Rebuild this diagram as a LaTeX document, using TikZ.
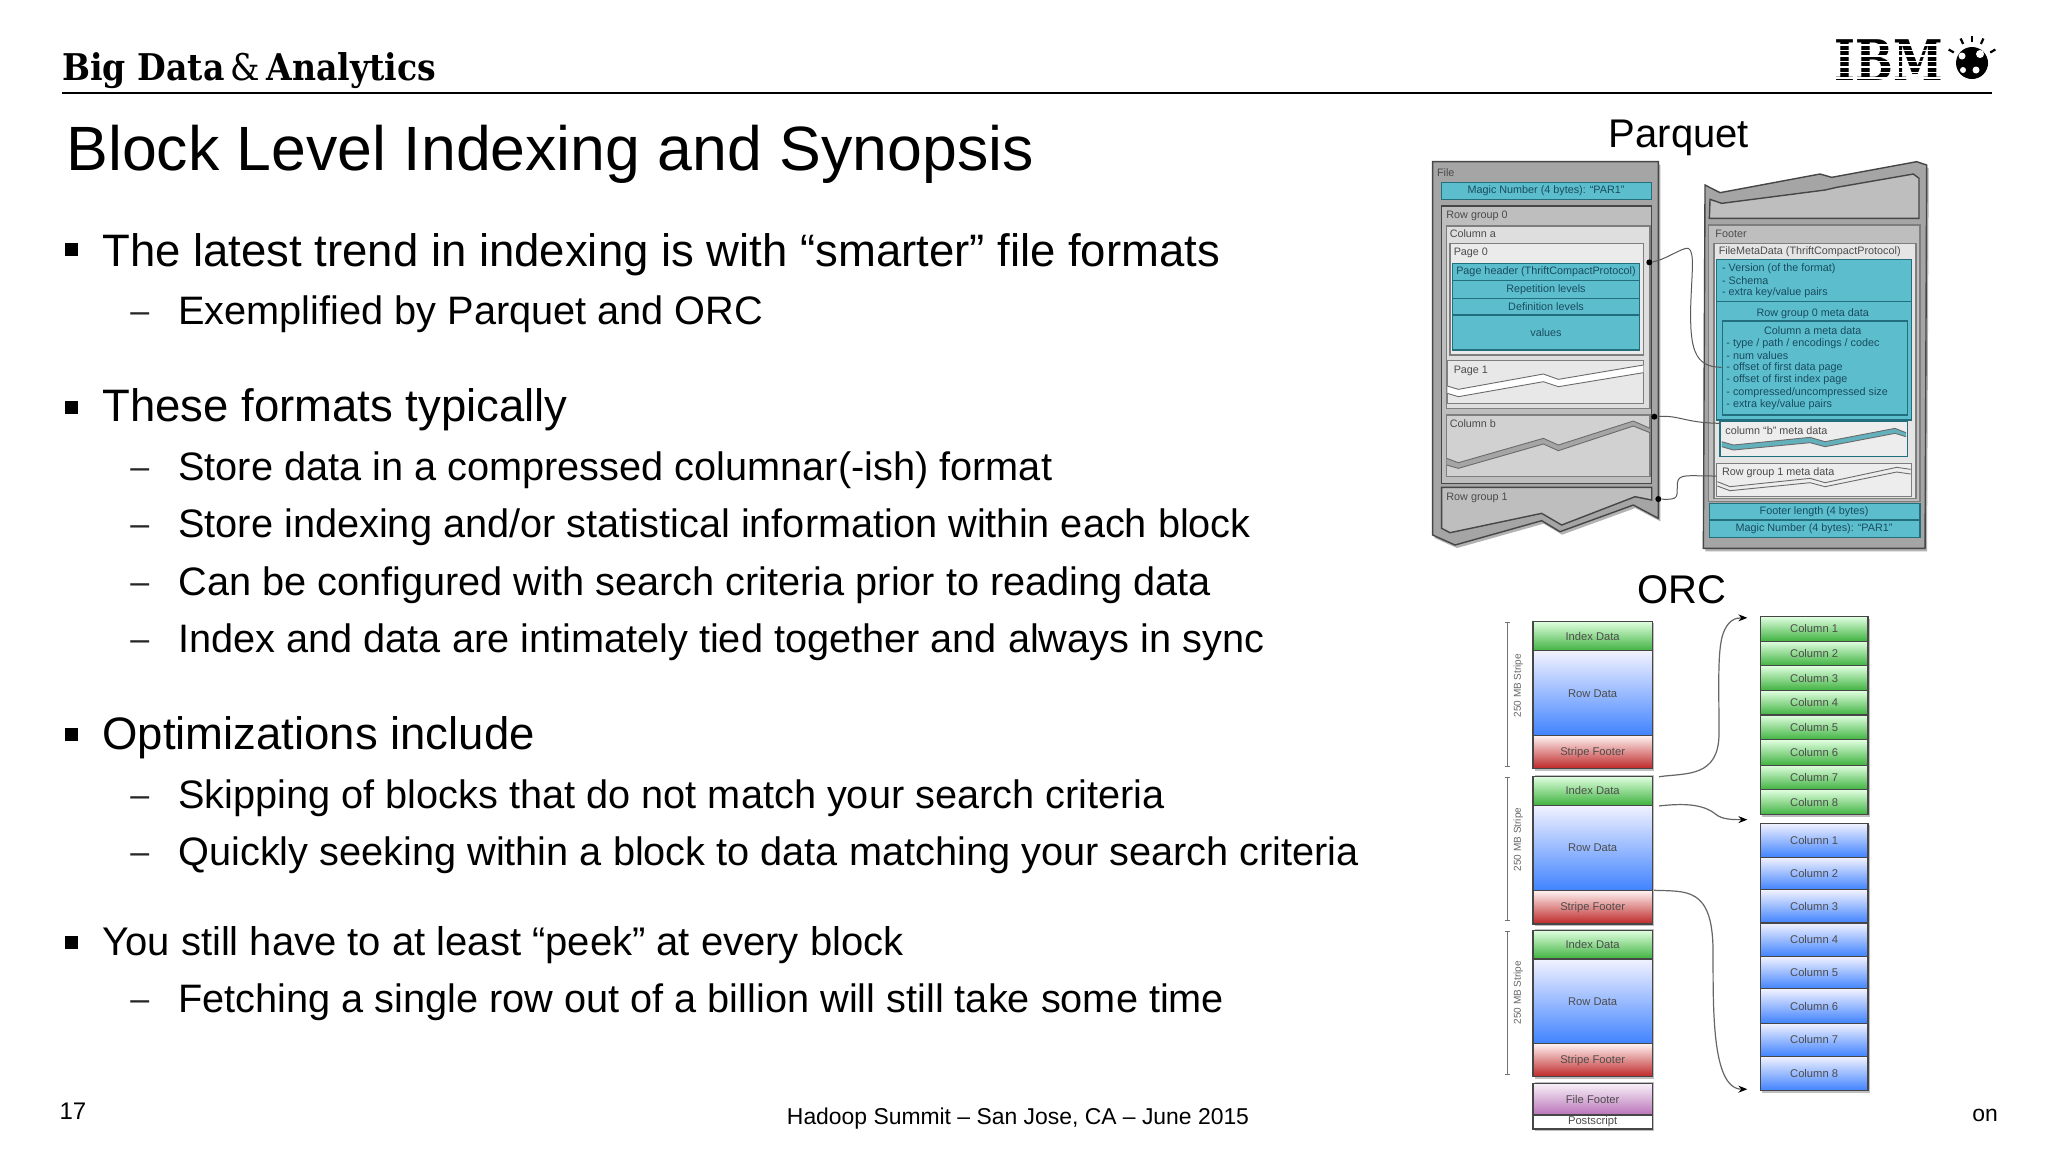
\documentclass[tikz,border=0pt]{standalone}
\usepackage{fontspec}
\setmainfont{Liberation Sans}
\newfontfamily\logofont[FakeStretch=0.9]{DejaVu Serif}
\newfontfamily\ibmfont[FakeStretch=0.8]{DejaVu Serif}
\usetikzlibrary{arrows.meta}
\definecolor{teal1}{RGB}{92,190,205}
\definecolor{tealline}{RGB}{35,110,125}
\definecolor{gedge}{RGB}{70,70,70}
\definecolor{gfill}{RGB}{165,165,165}
\definecolor{gmid}{RGB}{190,190,190}
\definecolor{glight}{RGB}{222,222,222}
\definecolor{smalltx}{RGB}{75,75,75}
\definecolor{tealtx}{RGB}{25,75,95}
\tikzset{
  lone/.style={anchor=base west,font=\fontsize{22.75}{26}\selectfont,inner sep=0pt},
  ltwo/.style={anchor=base west,font=\fontsize{19.85}{24}\selectfont,inner sep=0pt},
  lsmall/.style={anchor=base west,font=\fontsize{20}{24}\selectfont,inner sep=0pt},
  dashmark/.style={anchor=base west,font=\fontsize{17}{20}\selectfont,inner sep=0pt,text=black!85},
  headline/.style={font=\fontsize{20}{24}\selectfont,inner sep=0pt},
  foot/.style={anchor=base,font=\fontsize{12}{14}\selectfont,inner sep=0pt},
  footmid/.style={anchor=base,font=\fontsize{11.45}{14}\selectfont,inner sep=0pt},
  pq/.style={shift={(1420,100)},x=0.16667pt,y=-0.16667pt},
  oc/.style={shift={(1479,589)},x=0.16667pt,y=-0.18018pt},
  gbox/.style={draw=gedge,line width=.7pt},
  tbox/.style={draw=tealline,line width=.6pt,fill=teal1},
  tiny/.style={font=\fontsize{5.4}{6}\selectfont,inner sep=0pt,text=smalltx},
  tinyt/.style={font=\fontsize{5.4}{6}\selectfont,inner sep=0pt,text=tealtx},
  wire/.style={draw=black!65,line width=.5pt},
  dotend/.style={fill=black,circle,inner sep=0pt,minimum size=3pt},
  zig/.style={draw=gedge!80,line width=.45pt},
  stackbox/.style={draw=gedge,line width=.6pt,minimum width=59.67pt,anchor=north west,inner sep=0pt,font=\fontsize{5.6}{6}\selectfont,text=black!70},
  greenb/.style={top color=green!12!white,bottom color=green!60!black!75},
  blueb/.style={top color=blue!5!white,bottom color=blue!65!cyan!75},
  redb/.style={top color=red!5!white,bottom color=red!70!black!85},
  purpb/.style={top color=violet!5!white,bottom color=violet!55!white},
  colbox/.style={draw=gedge,line width=.6pt,anchor=north west,inner sep=0pt,font=\fontsize{5.6}{6}\selectfont,text=black!70},
  brace/.style={draw=black!55,line width=.5pt},
  curve/.style={draw=black!60,line width=.6pt},
  curvetip/.style={curve,-{Stealth[length=4.5pt,width=3.5pt,black]}},
  rot/.style={rotate=90,font=\fontsize{5}{5}\selectfont,inner sep=0pt,text=black!60},
  bullet/.style={fill=black,draw=none},
}
\newcommand{\stackrow}[5]{% name, y1, y2, style, text
  \pgfmathsetmacro{\hh}{(#3-#2)*0.18018}
  \node[stackbox,#4,minimum height=\hh pt] (#1) at (160,#2) {#5};}
\newcommand{\colrow}[5]{%
  \pgfmathsetmacro{\hh}{(#3-#2)*0.18018}
  \node[colbox,#4,minimum width=53.83pt,minimum height=\hh pt] (#1) at (842,#2) {#5};}
\begin{document}
\begin{tikzpicture}[x=0.5pt,y=-0.5pt]
\useasboundingbox (0,0) rectangle (2048,1153);
\fill[white] (0,0) rectangle (2048,1153);
% header
\node[anchor=base west,inner sep=0pt,font=\logofont\fontsize{18.4}{20}\selectfont] (brand) at (62,80) {\textbf{Big Data}\,\&\,\textbf{Analytics}};
\draw[line width=1pt] (62,92.5) -- (1992,92.5);
% IBM
\node[anchor=base west,inner sep=0pt,font=\ibmfont\bfseries\fontsize{28}{30}\selectfont] (ibm) at (1834,80) {IBM};
\foreach \yy in {44,49.5,55,60.5,66,71.5,77}{\fill[white] (1830,\yy) rectangle (1950,\yy+1.9);}
\fill[black] (1972,63) circle (16);
\fill[white] (1962,56) circle (3.5) (1980,54) circle (4) (1976,70) circle (3.5) (1963,70) circle (3);
\foreach \a in {-150,-115,-90,-65,-30}{\draw[line width=1.1pt] (1972,63) ++(\a:21) -- ++(\a:6);}
% title
\node[anchor=base west,inner sep=0pt,font=\fontsize{31.3}{36}\selectfont] (title) at (66,170.5) {Block Level Indexing and Synopsis};
% bullets
\foreach \yy in {249,407,734,942}{\fill[bullet] (65,\yy-6.5) rectangle (78,\yy+6.5);}
\node[lone] (a1) at (102,266) {The latest trend in indexing is with “smarter” file formats};
\node[ltwo] (a2) at (178,324) {Exemplified by Parquet and ORC};
\node[lone] (b1) at (102,421) {These formats typically};
\node[ltwo] (b2) at (178,480) {Store data in a compressed columnar(-ish) format};
\node[ltwo] (b3) at (178,537) {Store indexing and/or statistical information within each block};
\node[ltwo] (b4) at (178,595) {Can be configured with search criteria prior to reading data};
\node[ltwo] (b5) at (178,652) {Index and data are intimately tied together and always in sync};
\node[lone] (c1) at (102,749) {Optimizations include};
\node[ltwo] (c2) at (178,808) {Skipping of blocks that do not match your search criteria};
\node[ltwo] (c3) at (178,865) {Quickly seeking within a block to data matching your search criteria};
\node[lsmall] (d1) at (102,955) {You still have to at least “peek” at every block};
\node[ltwo] (d2) at (178,1012) {Fetching a single row out of a billion will still take some time};
\foreach \yy/\nn in {322/a,478/b,535/c,593/d,650/e,806/f,863/g,1010/h}{
  \node[dashmark] (dash\nn) at (130,\yy) {–};}
% footer
\node[foot] (pg) at (73,1119) {17};
\node[footmid] (evt) at (1018,1124) {Hadoop Summit – San Jose, CA – June 2015};
\node[footmid] (cut) at (1985,1121) {on};
% labels
\node[headline] (pqlab) at (1679,138) {Parquet};
\node[headline] (orclab) at (1682,590) {ORC};
% ---------- Parquet
\begin{scope}[pq]
\fill[black!30,xshift=1pt,yshift=-1.5pt] (38,185) -- (715,185) -- (715,1255) -- (640,1215) -- (420,1295) -- (365,1262) -- (105,1335) -- (38,1305) -- cycle;
\path[gbox,fill=gfill] (38,185) -- (715,185) -- (715,1255) -- (640,1215) -- (420,1295) -- (365,1262) -- (105,1335) -- (38,1305) -- cycle;
\node[tiny,anchor=west] (tfile) at (50,218) {File};
\path[tbox] (65,248) rectangle (695,298);
\node[tinyt] (tm1) at (378,272) {Magic Number (4 bytes): “PAR1”};
\path[gbox,fill=gmid] (65,318) rectangle (695,1150);
\node[tiny,anchor=west] (trg0) at (78,348) {Row group 0};
\path[gbox,draw=gedge!70,fill=glight] (80,378) rectangle (690,925);
\node[tiny,anchor=west] (tca) at (88,402) {Column a};
\path[gbox,draw=gedge!70,fill=black!8] (90,430) rectangle (670,765);
\node[tiny,anchor=west] (tp0) at (100,458) {Page 0};
\path[tbox] (98,490) rectangle (658,750);
\draw[draw=tealline,line width=.6pt] (98,542) -- (658,542) (98,595) -- (658,595) (98,645) -- (658,645);
\node[tinyt] (th) at (378,516) {Page header (ThriftCompactProtocol)};
\node[tinyt] (tr) at (378,569) {Repetition levels};
\node[tinyt] (td) at (378,621) {Definition levels};
\node[tinyt] (tv) at (378,698) {values};
\path[gbox,draw=gedge!70,fill=black!9] (82,782) rectangle (670,910);
\node[tiny,anchor=west] (tp1) at (100,812) {Page 1};
\fill[white] (82,858) -- (115,868) -- (370,822) -- (415,838) -- (670,795) -- (670,818) -- (415,860) -- (370,845) -- (115,890) -- (82,880) -- cycle;
\draw[zig] (82,858) -- (115,868) -- (370,822) -- (415,838) -- (670,795);
\draw[zig] (82,880) -- (115,890) -- (370,845) -- (415,860) -- (670,818);
\path[gbox,draw=gedge!70,fill=black!18] (80,945) rectangle (690,1130);
\node[tiny,anchor=west] (tcb) at (88,972) {Column b};
\fill[gfill] (80,1075) -- (115,1088) -- (370,1015) -- (415,1035) -- (640,963) -- (690,985) -- (690,998) -- (640,978) -- (415,1052) -- (370,1032) -- (115,1105) -- (80,1095) -- cycle;
\draw[zig] (80,1075) -- (115,1088) -- (370,1015) -- (415,1035) -- (640,963) -- (690,985);
\draw[zig] (80,1095) -- (115,1105) -- (370,1032) -- (415,1052) -- (640,978) -- (690,998);
\path[gbox,fill=gmid] (65,1162) -- (695,1162) -- (695,1200) -- (645,1190) -- (425,1275) -- (365,1240) -- (90,1298) -- (65,1285) -- cycle;
\node[tiny,anchor=west] (trg1) at (78,1195) {Row group 1};
% right file
\fill[black!30,xshift=1pt,yshift=-1.5pt] (855,255) -- (900,278) -- (1200,222) -- (1235,232) -- (1490,185) -- (1520,195) -- (1515,1345) -- (850,1345) -- cycle;
\path[gbox,fill=gfill] (855,255) -- (900,278) -- (1200,222) -- (1235,232) -- (1490,185) -- (1520,195) -- (1515,1345) -- (850,1345) -- cycle;
\path[gbox,fill=gmid] (870,298) -- (905,310) -- (1215,270) -- (1250,262) -- (1480,222) -- (1497,235) -- (1497,355) -- (868,355) -- cycle;
\path[gbox,draw=gedge!70,fill=gmid] (865,375) rectangle (1500,1205);
\node[tiny,anchor=west] (tfoot) at (885,402) {Footer};
\path[gbox,draw=gedge!70,fill=black!10] (882,430) rectangle (1488,1195);
\node[tiny,anchor=west] (tfm) at (895,456) {FileMetaData (ThriftCompactProtocol)};
\path[tbox] (890,478) rectangle (1475,960);
\draw[draw=tealline,line width=.6pt] (890,605) -- (1475,605);
\node[tinyt,anchor=west] (f1) at (905,505) {- Version (of the format)};
\node[tinyt,anchor=west] (f2) at (905,542) {- Schema};
\node[tinyt,anchor=west] (f3) at (905,579) {- extra key/value pairs};
\node[tinyt] (f4) at (1178,640) {Row group 0 meta data};
\draw[draw=tealline,line width=.6pt] (908,663) rectangle (1462,945);
\node[tinyt] (f5) at (1178,692) {Column a meta data};
\node[tinyt,anchor=west] (f6) at (918,730) {- type / path / encodings / codec};
\node[tinyt,anchor=west] (f7) at (918,767) {- num values};
\node[tinyt,anchor=west] (f8) at (918,803) {- offset of first data page};
\node[tinyt,anchor=west] (f9) at (918,840) {- offset of first index page};
\node[tinyt,anchor=west] (f10) at (918,878) {- compressed/uncompressed size};
\node[tinyt,anchor=west] (f11) at (918,915) {- extra key/value pairs};
\path[draw=tealline,line width=.6pt,fill=black!7] (900,965) rectangle (1462,1070);
\node[tiny,anchor=west] (f12) at (915,993) {column “b” meta data};
\fill[teal1!80!gray] (905,1025) -- (940,1035) -- (1170,1012) -- (1215,1025) -- (1425,985) -- (1458,998) -- (1458,1010) -- (1425,1000) -- (1215,1040) -- (1170,1028) -- (940,1050) -- (905,1040) -- cycle;
\draw[zig] (905,1025) -- (940,1035) -- (1170,1012) -- (1215,1025) -- (1425,985) -- (1458,998);
\draw[zig] (905,1040) -- (940,1050) -- (1170,1028) -- (1215,1040) -- (1425,1000) -- (1458,1010);
\path[gbox,draw=gedge!70,fill=black!7] (890,1090) rectangle (1475,1190);
\node[tiny,anchor=west] (f13) at (905,1117) {Row group 1 meta data};
\draw[zig] (892,1145) -- (930,1160) -- (1170,1135) -- (1215,1148) -- (1430,1102) -- (1472,1108);
\draw[zig] (892,1158) -- (930,1172) -- (1170,1148) -- (1215,1160) -- (1430,1116) -- (1472,1122);
\path[tbox] (868,1210) rectangle (1500,1260);
\path[tbox] (868,1260) rectangle (1500,1312);
\node[tinyt] (f14) at (1182,1235) {Footer length (4 bytes)};
\node[tinyt] (f15) at (1182,1286) {Magic Number (4 bytes): “PAR1”};
% connectors
\node[dotend] (d1a) at (688,487) {};
\node[dotend] (d2a) at (703,950) {};
\node[dotend] (d3a) at (715,1197) {};
\coordinate (e1) at (905,802);
\coordinate (e2) at (900,970);
\coordinate (e3) at (890,1128);
\draw[wire] (d1a) .. controls (735,480) and (790,440) .. (805,445) .. controls (825,455) and (815,520) .. (812,620) .. controls (810,740) and (820,802) .. (e1);
\draw[wire] (d2a) .. controls (780,945) and (790,968) .. (e2);
\draw[wire] (d3a) .. controls (780,1200) and (770,1190) .. (772,1150) .. controls (775,1120) and (800,1128) .. (e3);
\end{scope}
% ---------- ORC
\begin{scope}[oc]
\fill[black!25] (168,95) rectangle (526,1505);
\fill[white] (168,505) rectangle (526,516);
\fill[white] (168,936) rectangle (526,943);
\fill[white] (168,1360) rectangle (526,1368);
\stackrow{i1}{88}{170}{greenb}{Index Data}
\stackrow{r1}{170}{405}{blueb}{Row Data}
\stackrow{s1}{405}{497}{redb}{Stripe Footer}
\stackrow{i2}{518}{598}{greenb}{Index Data}
\stackrow{r2}{598}{835}{blueb}{Row Data}
\stackrow{s2}{835}{928}{redb}{Stripe Footer}
\stackrow{i3}{945}{1025}{greenb}{Index Data}
\stackrow{r3}{1025}{1260}{blueb}{Row Data}
\stackrow{s3}{1260}{1352}{redb}{Stripe Footer}
\stackrow{ff}{1370}{1458}{purpb}{File Footer}
\stackrow{ps}{1458}{1497}{fill=white}{Postscript}
\fill[black!25] (850,82) rectangle (1173,633);
\fill[black!25] (850,655) rectangle (1173,1398);
\colrow{g1}{75}{143}{greenb}{Column 1}
\colrow{g2}{143}{211}{greenb}{Column 2}
\colrow{g3}{211}{280}{greenb}{Column 3}
\colrow{g4}{280}{348}{greenb}{Column 4}
\colrow{g5}{348}{417}{greenb}{Column 5}
\colrow{g6}{417}{487}{greenb}{Column 6}
\colrow{g7}{487}{555}{greenb}{Column 7}
\colrow{g8}{555}{625}{greenb}{Column 8}
\colrow{b1x}{648}{743}{blueb}{Column 1}
\colrow{b2x}{743}{833}{blueb}{Column 2}
\colrow{b3x}{833}{925}{blueb}{Column 3}
\colrow{b4x}{925}{1018}{blueb}{Column 4}
\colrow{b5x}{1018}{1108}{blueb}{Column 5}
\colrow{b6x}{1108}{1203}{blueb}{Column 6}
\colrow{b7x}{1203}{1295}{blueb}{Column 7}
\colrow{b8x}{1295}{1390}{blueb}{Column 8}
% stripe ranges
\coordinate (t1) at (85,92); \coordinate (u1) at (85,493);
\coordinate (t2) at (85,522); \coordinate (u2) at (85,920);
\coordinate (t3) at (85,950); \coordinate (u3) at (85,1347);
\draw[brace] (t1) -- (u1) (t2) -- (u2) (t3) -- (u3);
\draw[brace] (77,92) -- (93,92) (77,493) -- (93,493) (77,522) -- (93,522) (77,920) -- (93,920) (77,950) -- (93,950) (77,1347) -- (93,1347);
\node[rot] (m1) at (118,268) {250 MB Stripe};
\node[rot] (m2) at (118,695) {250 MB Stripe};
\node[rot] (m3) at (118,1120) {250 MB Stripe};
% curves
\coordinate (q1) at (540,521); \coordinate (w1) at (805,80);
\coordinate (q2) at (540,602); \coordinate (w2) at (805,640);
\coordinate (q3) at (525,836); \coordinate (w3) at (805,1388);
\draw[curvetip] (q1) .. controls (620,510) and (720,525) .. (720,400) .. controls (720,280) and (715,180) .. (730,130) .. controls (745,85) and (770,80) .. (w1);
\draw[curvetip] (q2) .. controls (610,595) and (670,595) .. (710,625) .. controls (730,640) and (760,640) .. (w2);
\draw[curvetip] (q3) .. controls (620,840) and (700,825) .. (702,1000) .. controls (703,1150) and (695,1388) .. (w3);
\end{scope}
\end{tikzpicture}
\end{document}
